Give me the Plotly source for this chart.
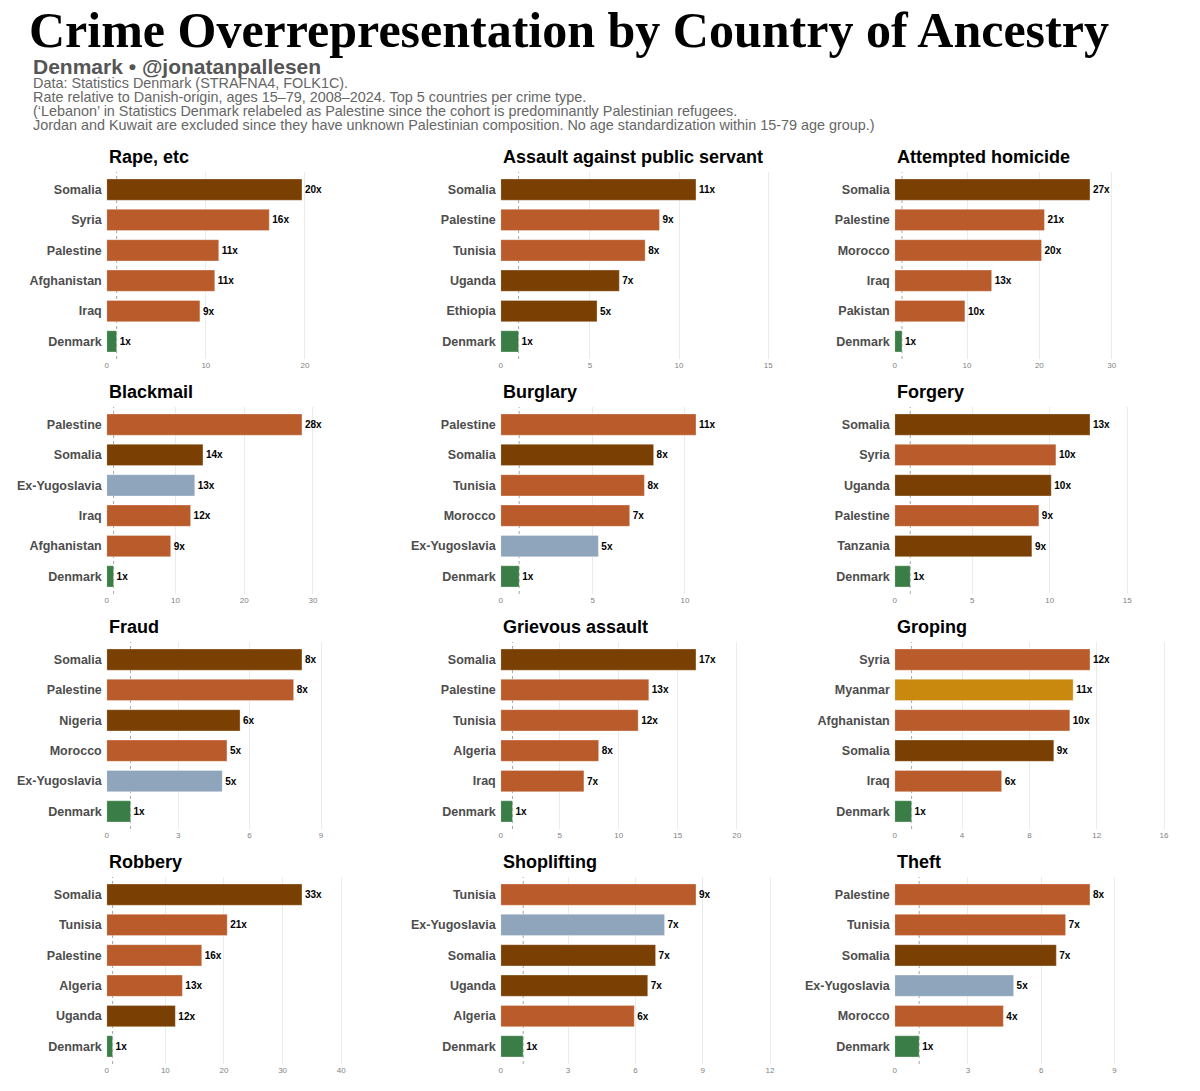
import plotly.graph_objects as go

# ---------------------------------------------------------------- data ---- #
crimes = ["Rape, etc", "Assault against public servant", "Attempted homicide",
          "Blackmail", "Burglary", "Forgery",
          "Fraud", "Grievous assault", "Groping",
          "Robbery", "Shoplifting", "Theft"]

rape_countries = ["Somalia", "Syria", "Palestine", "Afghanistan", "Iraq", "Denmark"]
rape_rates = [19.7, 16.4, 11.3, 10.9, 9.4, 1.0]

assault_countries = ["Somalia", "Palestine", "Tunisia", "Uganda", "Ethiopia", "Denmark"]
assault_rates = [10.95, 8.9, 8.1, 6.65, 5.4, 1.0]

homicide_countries = ["Somalia", "Palestine", "Morocco", "Iraq", "Pakistan", "Denmark"]
homicide_rates = [27.0, 20.7, 20.3, 13.4, 9.7, 1.0]

blackmail_countries = ["Palestine", "Somalia", "Ex-Yugoslavia", "Iraq", "Afghanistan", "Denmark"]
blackmail_rates = [28.4, 14.0, 12.8, 12.2, 9.3, 1.0]

burglary_countries = ["Palestine", "Somalia", "Tunisia", "Morocco", "Ex-Yugoslavia", "Denmark"]
burglary_rates = [10.6, 8.3, 7.8, 7.0, 5.3, 1.0]

forgery_countries = ["Somalia", "Syria", "Uganda", "Palestine", "Tanzania", "Denmark"]
forgery_rates = [12.6, 10.4, 10.1, 9.3, 8.85, 1.0]

fraud_countries = ["Somalia", "Palestine", "Nigeria", "Morocco", "Ex-Yugoslavia", "Denmark"]
fraud_rates = [8.2, 7.85, 5.6, 5.05, 4.85, 1.0]

grievous_countries = ["Somalia", "Palestine", "Tunisia", "Algeria", "Iraq", "Denmark"]
grievous_rates = [16.55, 12.55, 11.65, 8.3, 7.05, 1.0]

groping_countries = ["Syria", "Myanmar", "Afghanistan", "Somalia", "Iraq", "Denmark"]
groping_rates = [11.6, 10.6, 10.4, 9.45, 6.35, 1.0]

robbery_countries = ["Somalia", "Tunisia", "Palestine", "Algeria", "Uganda", "Denmark"]
robbery_rates = [33.3, 20.55, 16.2, 12.9, 11.7, 1.0]

shoplifting_countries = ["Tunisia", "Ex-Yugoslavia", "Somalia", "Uganda", "Algeria", "Denmark"]
shoplifting_rates = [8.7, 7.3, 6.9, 6.55, 5.95, 1.0]

theft_countries = ["Palestine", "Tunisia", "Somalia", "Ex-Yugoslavia", "Morocco", "Denmark"]
theft_rates = [8.0, 7.0, 6.62, 4.87, 4.45, 1.0]

# x tick step per panel
tick_steps = [10, 5, 10, 10, 5, 5, 3, 5, 4, 10, 3, 3]

region_of = {
    "Somalia": "africa", "Uganda": "africa", "Ethiopia": "africa",
    "Nigeria": "africa", "Tanzania": "africa",
    "Syria": "mena", "Palestine": "mena", "Afghanistan": "mena", "Iraq": "mena",
    "Tunisia": "mena", "Morocco": "mena", "Pakistan": "mena", "Algeria": "mena",
    "Ex-Yugoslavia": "balkans", "Myanmar": "asia", "Denmark": "denmark",
}
region_colors = {
    "africa": "#7A3F02",
    "mena": "#B95B2B",
    "balkans": "#8FA5BB",
    "asia": "#C9890F",
    "denmark": "#3B7D46",
}

BASELINE = 1  # Danish-origin rate

panels = [
    (rape_countries, rape_rates), (assault_countries, assault_rates),
    (homicide_countries, homicide_rates), (blackmail_countries, blackmail_rates),
    (burglary_countries, burglary_rates), (forgery_countries, forgery_rates),
    (fraud_countries, fraud_rates), (grievous_countries, grievous_rates),
    (groping_countries, groping_rates), (robbery_countries, robbery_rates),
    (shoplifting_countries, shoplifting_rates), (theft_countries, theft_rates),
]

# -------------------------------------------------------------- layout ---- #
W, H = 1200, 1091
col_left = [105, 500, 895]
plot_w = 274
row_top = [172, 407, 642, 877]
plot_h = 187

SANS = "Liberation Sans"
SERIF = "Liberation Serif"

fig = go.Figure()
layout_axes = {}
shapes = []
annotations = []

for i, (crime, (countries, rates)) in enumerate(zip(crimes, panels)):
    r, c = divmod(i, 3)
    n = "" if i == 0 else str(i + 1)
    x0 = col_left[c] / W
    x1 = (col_left[c] + plot_w) / W
    y1 = 1 - row_top[r] / H
    y0 = 1 - (row_top[r] + plot_h) / H

    fig.add_trace(go.Bar(
        x=rates,
        y=countries,
        orientation="h",
        width=0.7,
        marker=dict(color=[region_colors[region_of[k]] for k in countries],
                    line=dict(color="rgba(255,255,255,0.5)", width=0.6)),
        text=[f"{int(v + 0.5)}x" for v in rates],
        textposition="outside",
        textfont=dict(family=SANS, size=10, color="black", weight="bold"),
        constraintext="none",
        cliponaxis=False,
        showlegend=False,
        xaxis="x" + n,
        yaxis="y" + n,
    ))

    layout_axes["xaxis" + n] = dict(
        domain=[x0, x1], anchor="y" + n,
        range=[0, max(rates) * 1.4],
        tick0=0, dtick=tick_steps[i],
        showgrid=True, gridcolor="#EBEBEB", gridwidth=1,
        zeroline=False, showline=False, ticks="",
        tickfont=dict(family=SANS, size=8, color="#7F7F7F"),
        fixedrange=True,
    )
    layout_axes["yaxis" + n] = dict(
        domain=[y0, y1], anchor="x" + n,
        type="category", categoryorder="array", categoryarray=countries,
        range=[len(countries) - 0.42, -0.58],
        showgrid=False, zeroline=False, showline=False, ticks="",
        ticklabelstandoff=4,
        tickfont=dict(family=SANS, size=12.5, color="#4D4D4D", weight="bold"),
        fixedrange=True,
    )

    shapes.append(dict(
        type="line", xref="x" + n, yref=f"y{n} domain",
        x0=BASELINE, x1=BASELINE, y0=0, y1=1,
        line=dict(color="#A6A6A6", width=1, dash="dot"),
        layer="below",
    ))

    annotations.append(dict(
        text=crime, xref="paper", yref="paper",
        x=x0, y=y1 + 15 / H, xanchor="left", yanchor="middle",
        showarrow=False,
        font=dict(family=SANS, size=18, color="black", weight="bold"),
    ))

# header
annotations.append(dict(
    text="Crime Overrepresentation by Country of Ancestry",
    xref="paper", yref="paper", x=25 / W, y=1 - 30 / H,
    xanchor="left", yanchor="middle", showarrow=False,
    font=dict(family=SERIF, size=50, color="black", weight="bold"),
))
annotations.append(dict(
    text="Denmark • @jonatanpallesen",
    xref="paper", yref="paper", x=29 / W, y=1 - 66 / H,
    xanchor="left", yanchor="middle", showarrow=False,
    font=dict(family=SANS, size=21, color="#555555", weight="bold"),
))
note_lines = [
    "Data: Statistics Denmark (STRAFNA4, FOLK1C).",
    "Rate relative to Danish-origin, ages 15–79, 2008–2024. Top 5 countries per crime type.",
    "(‘Lebanon’ in Statistics Denmark relabeled as Palestine since the cohort is predominantly Palestinian refugees.",
    "Jordan and Kuwait are excluded since they have unknown Palestinian composition. No age standardization within 15-79 age group.)",
]
for k, line in enumerate(note_lines):
    annotations.append(dict(
        text=line, xref="paper", yref="paper",
        x=29 / W, y=1 - (83 + 14 * k) / H,
        xanchor="left", yanchor="middle", showarrow=False,
        font=dict(family=SANS, size=14.4, color="#666666"),
    ))

fig.update_layout(
    width=W, height=H,
    margin=dict(l=0, r=0, t=0, b=0),
    paper_bgcolor="white", plot_bgcolor="white",
    bargap=0.3,
    shapes=shapes,
    annotations=annotations,
    **layout_axes,
)

# page body has a default 8px margin; drop it so the figure sits at 0,0
fig.write_html("out.html", config={"displayModeBar": False},
               post_script="document.body.style.margin='0';")
